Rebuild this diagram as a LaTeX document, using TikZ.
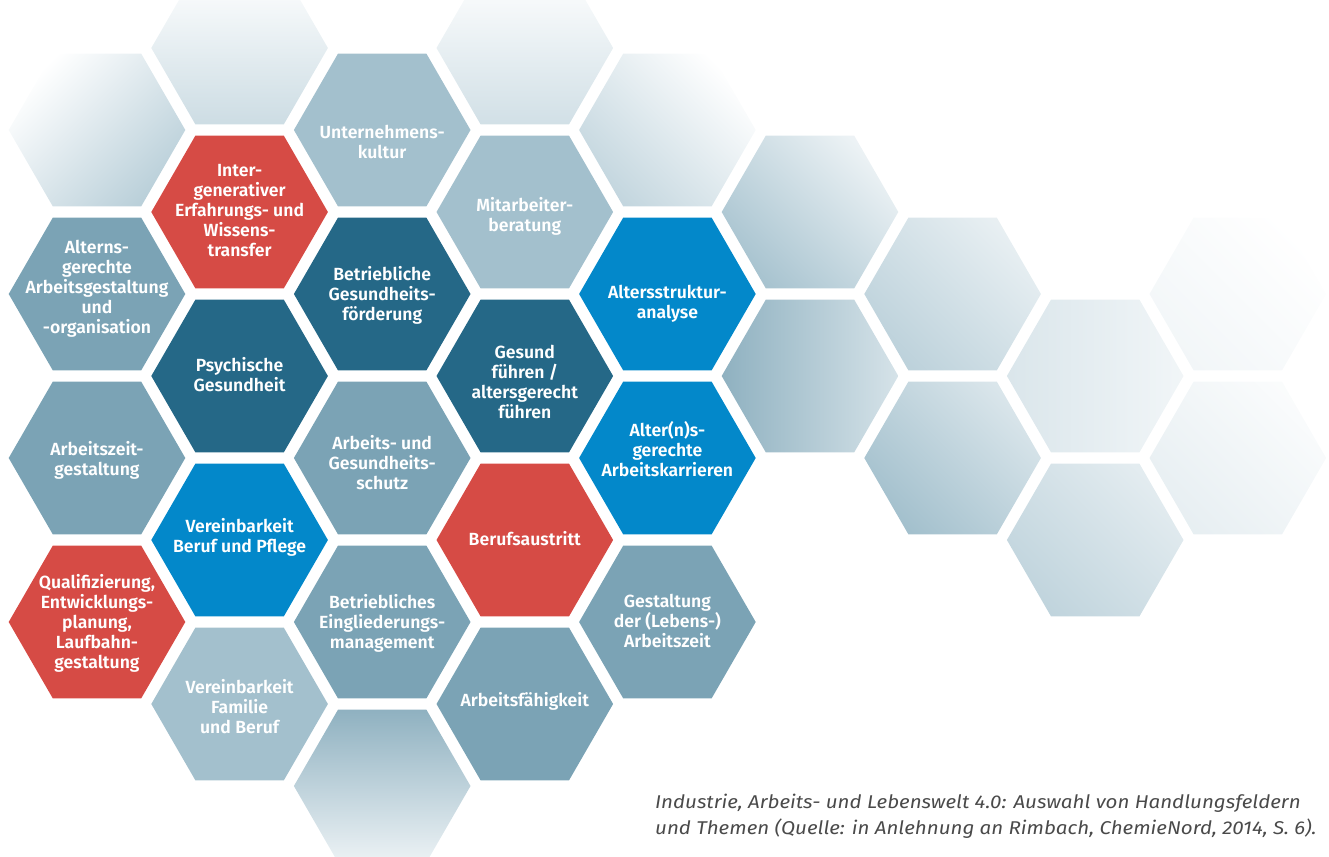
\documentclass[tikz,border=0pt]{standalone}
\usepackage{fontspec}
\setmainfont{Fira Sans}
\newfontfamily\hexfont{Fira Sans SemiBold}
\newfontfamily\capfont{Fira Sans Italic}[FakeStretch=1.11]
\usetikzlibrary{shapes.geometric}

\definecolor{hexred}{HTML}{D64B45}
\definecolor{hexdark}{HTML}{256887}
\definecolor{hexblue}{HTML}{0388CA}
\definecolor{hexmid}{HTML}{7BA3B5}
\definecolor{hexlight}{HTML}{A3C0CD}
\definecolor{captext}{HTML}{4A4A4A}

\begin{document}
\begin{tikzpicture}[x=1pt,y=1pt,
  hexa/.style={regular polygon, regular polygon sides=6, minimum size=176.6pt,
    inner sep=0pt, outer sep=0pt, draw=none},
  red/.style={hexa, fill=hexred},
  dark/.style={hexa, fill=hexdark},
  blue/.style={hexa, fill=hexblue},
  mid/.style={hexa, fill=hexmid},
  light/.style={hexa, fill=hexlight},
  fade/.style n args={3}{hexa, top color=#1, bottom color=#2, shading angle=#3},
  lbl/.style={text=white, font=\hexfont\fontsize{17.6}{20}\selectfont,
    align=center, inner sep=0pt},
  captionstyle/.style={text=captext, font=\capfont\fontsize{18.5}{26}\selectfont,
    align=left, inner sep=0pt},
]
\useasboundingbox (0,0) rectangle (1329,-856);

% column x: 97 + 142.6 c ; even columns y: 130 + 164 r ; odd columns y: 48 + 164 r
% --- faded background cells
\node[fade={white}{hexlight!75}{45}]            (f0a) at (97,-130) {};
\node[hexa, top color=white, middle color=white, bottom color=hexlight!55]
                                                (f1a) at (239.6,-48) {};
\node[fade={white}{hexlight!50}{0}]             (f3a) at (524.8,-48) {};
\node[fade={white}{hexlight!65}{-45}]           (f4a) at (667.4,-130) {};
\node[fade={hexlight!20}{hexlight!95}{-45}]     (f5a) at (810,-212) {};
\node[fade={hexlight!45}{hexmid!85}{-90}]       (f5b) at (810,-376) {};
\node[fade={hexmid!85}{hexlight!20}{0}]         (f2e) at (382.2,-786) {};
\node[fade={hexlight!25}{hexlight!72}{-45}]     (f6a) at (952.6,-294) {};
\node[fade={hexlight!40}{hexlight!100}{-45}]    (f6b) at (952.6,-458) {};
\node[fade={hexlight!15}{hexlight!40}{-90}]     (f7a) at (1095.2,-376) {};
\node[fade={hexlight!30}{hexlight!68}{-45}]     (f7b) at (1095.2,-540) {};
\node[fade={white}{hexlight!14}{-45}]           (f8a) at (1237.8,-294) {};
\node[fade={hexlight!5}{hexlight!26}{-45}]      (f8b) at (1237.8,-458) {};

% --- themed cells
\node[mid]   (c0b) at (97,-294) {};
\node[mid]   (c0c) at (97,-458) {};
\node[red]   (c0d) at (97,-622) {};

\node[red]   (c1b) at (239.6,-212) {};
\node[dark]  (c1c) at (239.6,-376) {};
\node[blue]  (c1d) at (239.6,-540) {};
\node[light] (c1e) at (239.6,-704) {};

\node[light] (c2a) at (382.2,-130) {};
\node[dark]  (c2b) at (382.2,-294) {};
\node[mid]   (c2c) at (382.2,-458) {};
\node[mid]   (c2d) at (382.2,-622) {};

\node[light] (c3b) at (524.8,-212) {};
\node[dark]  (c3c) at (524.8,-376) {};
\node[red]   (c3d) at (524.8,-540) {};
\node[mid]   (c3e) at (524.8,-704) {};

\node[blue]  (c4b) at (667.4,-294) {};
\node[blue]  (c4c) at (667.4,-458) {};
\node[mid]   (c4d) at (667.4,-622) {};

% --- labels
\node[lbl] (t0b) at ([yshift=5.7]c0b.center) {Alterns-\\gerechte\\Arbeitsgestaltung\\und\\-organisation};
\node[lbl] (t0c) at ([yshift=-2.7]c0c.center) {Arbeitszeit-\\gestaltung};
\node[lbl] (t0d) at ([yshift=-1.3]c0d.center) {Qualifizierung,\\Entwicklungs-\\planung,\\Laufbahn-\\gestaltung};

\node[lbl] (t1b) at ([yshift=1.7]c1b.center) {Inter-\\generativer\\Erfahrungs- und\\Wissens-\\transfer};
\node[lbl] (t1c) at ([yshift=1]c1c.center) {Psychische\\Gesundheit};
\node[lbl] (t1d) at ([yshift=2.7]c1d.center) {Vereinbarkeit\\Beruf und Pflege};
\node[lbl] (t1e) at ([yshift=-2.7]c1e.center) {Vereinbarkeit\\Familie\\und Beruf};

\node[lbl] (t2a) at ([yshift=-11.7]c2a.center) {Unternehmens-\\kultur};
\node[lbl] (t2b) at ([yshift=-1.7]c2b.center) {Betriebliche\\Gesundheits-\\förderung};
\node[lbl] (t2c) at ([yshift=-4.3]c2c.center) {Arbeits- und\\Gesundheits-\\schutz};
\node[lbl] (t2d) at ([yshift=-1.3]c2d.center) {Betriebliches\\Eingliederungs-\\management};

\node[lbl] (t3b) at ([yshift=-4.7]c3b.center) {Mitarbeiter-\\beratung};
\node[lbl] (t3c) at ([yshift=-5.7]c3c.center) {Gesund\\führen /\\altersgerecht\\führen};
\node[lbl] (t3d) at ([yshift=1.7]c3d.center) {Berufsaustritt};
\node[lbl] (t3e) at ([yshift=2.3]c3e.center) {Arbeitsfähigkeit};

\node[lbl] (t4b) at ([yshift=-10]c4b.center) {Altersstruktur-\\analyse};
\node[lbl] (t4c) at ([yshift=9]c4c.center) {Alter(n)s-\\gerechte\\Arbeitskarrieren};
\node[lbl] (t4d) at ([yshift=1]c4d.center) {Gestaltung\\der (Lebens-)\\Arbeitszeit};

% --- caption (anchored on the baseline of its last line)
\node[captionstyle, anchor=base west] (cap) at (655,-834.3)
  {Industrie, Arbeits- und Lebenswelt 4.0: Auswahl von Handlungsfeldern\\
   und Themen (Quelle: in Anlehnung an Rimbach, ChemieNord, 2014, S.~6).};
\end{tikzpicture}
\end{document}
